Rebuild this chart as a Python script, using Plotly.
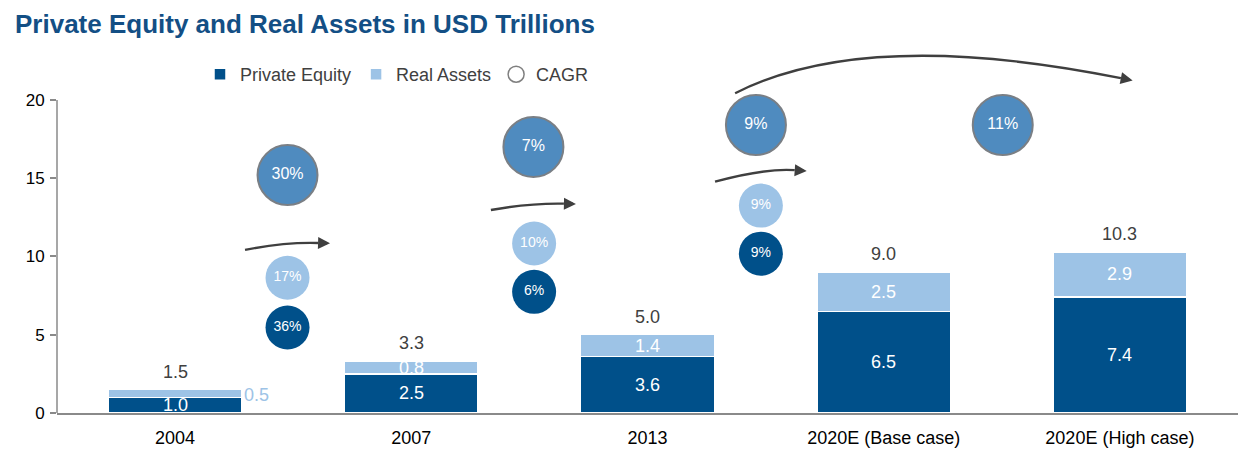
import math
import plotly.graph_objects as go

# ---------------- data ----------------
categories = ["2004", "2007", "2013", "2020E (Base case)", "2020E (High case)"]
private_equity = [1.0, 2.5, 3.6, 6.5, 7.4]
real_assets = [0.5, 0.8, 1.4, 2.5, 2.9]
totals = [1.5, 3.3, 5.0, 9.0, 10.3]

cagr_total = ["30%", "7%", "9%", "11%"]
cagr_real_assets = ["17%", "10%", "9%"]
cagr_private_equity = ["36%", "6%", "9%"]

y_ticks = [0, 5, 10, 15, 20]

# ---------------- layout constants ----------------
FONT = "Liberation Sans, Arial, sans-serif"
C_PE = "#00508A"
C_RA = "#9DC3E6"
C_TOT = "#4F8BBF"
C_TOT_LINE = "#7A7F85"
C_TEXT = "#404040"
C_AXIS = "#8A8A8A"
C_ARROW = "#3F3F3F"

W, H = 1251, 452
M_L, M_R, M_T, M_B = 57, 13, 40, 39
X_RANGE = [-0.5, 4.5]
Y_RANGE = [0, 23.83]
PX_X = (W - M_L - M_R) / (X_RANGE[1] - X_RANGE[0])
PX_Y = (H - M_T - M_B) / (Y_RANGE[1] - Y_RANGE[0])
BAR_W = 0.566

x_idx = list(range(len(categories)))

# positions of the CAGR bubbles (between the bars)
tot_pos_x = [0.476, 1.517, 2.459, 3.504]
tot_pos_y = [15.2, 17.0, 18.4, 18.4]
ra_pos_x = [0.476, 1.52, 2.48]
ra_pos_y = [8.64, 10.83, 13.25]
pe_pos_x = [0.476, 1.52, 2.48]
pe_pos_y = [5.46, 7.74, 10.18]

# curved arrows: (start, control, tip) in axis units
arrows = [
    ((0.296, 10.42), (0.465, 10.93), (0.656, 10.84)),
    ((1.337, 12.97), (1.502, 13.42), (1.697, 13.36)),
    ((2.286, 14.78), (2.497, 15.65), (2.674, 15.46)),
    ((2.371, 20.43), (2.925, 24.67), (4.054, 21.24)),
]

fig = go.Figure()

fig.add_trace(go.Bar(
    x=x_idx, y=private_equity, name="Private Equity", width=BAR_W,
    marker=dict(color=C_PE, line=dict(color="white", width=1.5)),
    hoverinfo="skip",
))
fig.add_trace(go.Bar(
    x=x_idx, y=real_assets, name="Real Assets", width=BAR_W,
    marker=dict(color=C_RA, line=dict(color="white", width=1.5)),
    hoverinfo="skip",
))

# legend entry for CAGR
fig.add_trace(go.Scatter(
    x=[None], y=[None], mode="markers", name="CAGR",
    marker=dict(symbol="circle-open", size=16, color="#7F7F7F", line=dict(width=1.5)),
))

# CAGR bubbles
fig.add_trace(go.Scatter(
    x=tot_pos_x, y=tot_pos_y, mode="markers+text", text=cagr_total,
    textposition="middle center", textfont=dict(family=FONT, size=16, color="white"),
    marker=dict(size=60, color=C_TOT, line=dict(color=C_TOT_LINE, width=2)),
    showlegend=False, cliponaxis=False, hoverinfo="skip",
))
fig.add_trace(go.Scatter(
    x=ra_pos_x, y=ra_pos_y, mode="markers+text", text=cagr_real_assets,
    textposition="middle center", textfont=dict(family=FONT, size=14, color="white"),
    marker=dict(size=44, color=C_RA, line=dict(width=0)),
    showlegend=False, cliponaxis=False, hoverinfo="skip",
))
fig.add_trace(go.Scatter(
    x=pe_pos_x, y=pe_pos_y, mode="markers+text", text=cagr_private_equity,
    textposition="middle center", textfont=dict(family=FONT, size=14, color="white"),
    marker=dict(size=44, color=C_PE, line=dict(width=0)),
    showlegend=False, cliponaxis=False, hoverinfo="skip",
))

annotations = []
# value labels
for i, (pe, ra, tot) in enumerate(zip(private_equity, real_assets, totals)):
    annotations.append(dict(x=i, y=pe / 2, text=f"{pe:.1f}", showarrow=False,
                            font=dict(family=FONT, size=18, color="white")))
    if ra >= 0.6:
        annotations.append(dict(x=i, y=pe + ra / 2, text=f"{ra:.1f}", showarrow=False,
                                font=dict(family=FONT, size=18, color="white")))
    else:
        annotations.append(dict(x=i + BAR_W / 2, y=pe + ra / 2 - 0.1, text=f"{ra:.1f}",
                                showarrow=False, xanchor="left",
                                font=dict(family=FONT, size=18, color=C_RA)))
    annotations.append(dict(x=i, y=pe + ra, text=f"{tot:.1f}", showarrow=False,
                            yanchor="bottom", yshift=6,
                            font=dict(family=FONT, size=18, color=C_TEXT)))

shapes = []
# y axis line (only from 0 to 20)
shapes.append(dict(type="line", xref="paper", yref="y", x0=0, x1=0, y0=0, y1=20,
                   line=dict(color=C_AXIS, width=1.5)))

HEAD_L = 12.0
for (s, c, t) in arrows:
    dxp = (t[0] - c[0]) * PX_X
    dyp = (t[1] - c[1]) * PX_Y
    n = math.hypot(dxp, dyp)
    ux, uy = dxp / n, dyp / n
    tail = (t[0] - ux * HEAD_L / PX_X, t[1] - uy * HEAD_L / PX_Y)
    path = f"M {s[0]},{s[1]} Q {c[0]},{c[1]} {tail[0]},{tail[1]}"
    shapes.append(dict(type="path", xref="x", yref="y", path=path,
                       line=dict(color=C_ARROW, width=2.4)))
    annotations.append(dict(x=t[0], y=t[1], ax=-ux * HEAD_L, ay=uy * HEAD_L,
                            axref="pixel", ayref="pixel", text="", showarrow=True,
                            arrowhead=2, arrowsize=1.0, arrowwidth=2.4,
                            arrowcolor=C_ARROW, standoff=0))

fig.update_layout(
    width=W, height=H,
    margin=dict(l=M_L, r=M_R, t=M_T, b=M_B, autoexpand=False),
    paper_bgcolor="white", plot_bgcolor="white",
    barmode="stack",
    font=dict(family=FONT, size=16, color="#000000"),
    title=dict(text="<b>Private Equity and Real Assets in USD Trillions</b>",
               x=15 / W, xanchor="left", xref="container",
               y=1 - 24 / H, yanchor="middle", yref="container",
               font=dict(family=FONT, size=26, color="#134F85")),
    legend=dict(orientation="h", x=(200 - M_L) / (W - M_L - M_R), xanchor="left",
                y=(H - M_B - 74.5) / (H - M_T - M_B), yanchor="middle",
                font=dict(family=FONT, size=18, color="#404040"),
                bgcolor="rgba(0,0,0,0)", traceorder="normal"),
    xaxis=dict(range=X_RANGE, tickvals=x_idx, ticktext=categories, showgrid=False,
               zeroline=False, showline=True, linecolor=C_AXIS, linewidth=2,
               ticks="", tickfont=dict(family=FONT, size=18, color="#000000"),
               ticklabelstandoff=7, automargin=False, fixedrange=True),
    yaxis=dict(range=Y_RANGE, tickvals=y_ticks, showgrid=False, zeroline=False,
               showline=False, ticks="outside", ticklen=6, tickcolor=C_AXIS,
               tickwidth=1.5, tickfont=dict(family=FONT, size=17, color="#000000"),
               ticklabelstandoff=2, automargin=False, fixedrange=True),
    shapes=shapes,
    annotations=annotations,
    showlegend=True,
)

fig.write_html("out.html", config={"displayModeBar": False},
               post_script="document.body.style.margin='0';")
